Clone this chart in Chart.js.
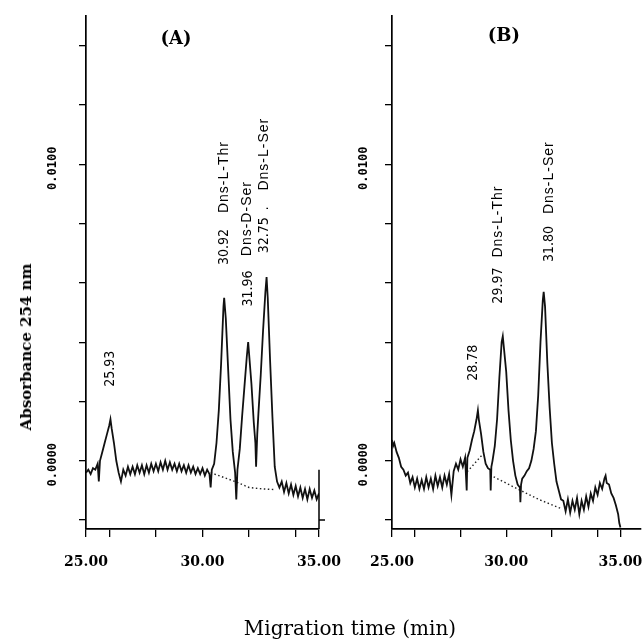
<!DOCTYPE html>
<html>
<head>
<meta charset="utf-8">
<script src="https://cdn.jsdelivr.net/npm/chart.js@4"></script>
<style>
  body { margin: 0; background: #fff; width: 644px; height: 642px; position: relative; overflow: hidden; }
  .panel { position: absolute; top: 0; height: 642px; }
  #wrapA { left: 0; width: 360px; }
  #wrapB { left: 300px; width: 344px; }
  .ttl { position: absolute; color: #000; white-space: nowrap; }
  #ytitle { font: bold 15px "DejaVu Serif", serif; left: 26px; top: 347px; transform: translate(-50%, -50%) rotate(-90deg); }
  #xtitle { font: 20px "DejaVu Serif", serif; left: 350px; top: 628px; transform: translate(-50%, -50%); }
</style>
</head>
<body>
<div class="panel" id="wrapA"><canvas id="chartA"></canvas></div>
<div class="panel" id="wrapB"><canvas id="chartB"></canvas></div>
<div class="ttl" id="ytitle">Absorbance 254 nm</div>
<div class="ttl" id="xtitle">Migration time (min)</div>
<script>
// [migration time (min), absorbance 254 nm]
const traceA = [
  [25.0,-0.0004],[25.1,-0.0003],[25.2,-0.00045],[25.3,-0.00025],[25.4,-0.0003],[25.5,-0.0001],[25.55,-0.0007],
  [25.6,0.0000],[25.7,0.0003],[25.8,0.0006],[25.9,0.0009],[26.0,0.0012],[26.05,0.0014],[26.1,0.0011],[26.2,0.0006],
  [26.3,0.0000],[26.4,-0.0004],[26.5,-0.0007],[26.6,-0.0003],[26.7,-0.0005],[26.8,-0.0002],[26.9,-0.00045],
  [27.0,-0.0002],[27.1,-0.00045],[27.2,-0.00015],[27.3,-0.0004],[27.4,-0.00015],[27.5,-0.00045],[27.6,-0.00015],
  [27.7,-0.0004],[27.8,-0.0001],[27.9,-0.00035],[28.0,-0.0001],[28.1,-0.00035],[28.2,-0.00005],[28.3,-0.0003],
  [28.4,0.0000],[28.5,-0.0003],[28.6,-0.00005],[28.7,-0.0003],[28.8,-0.0001],[28.9,-0.00035],[29.0,-0.0001],
  [29.1,-0.00035],[29.2,-0.00015],[29.3,-0.0004],[29.4,-0.00015],[29.5,-0.0004],[29.6,-0.0002],[29.7,-0.00045],
  [29.8,-0.00025],[29.9,-0.00045],[30.0,-0.00025],[30.1,-0.0005],[30.2,-0.0003],[30.3,-0.00045],[30.35,-0.0009],
  [30.4,-0.0003],[30.5,-0.0001],[30.6,0.0006],[30.7,0.0017],[30.8,0.0033],[30.9,0.0052],[30.93,0.0055],
  [31.0,0.0048],[31.1,0.0031],[31.2,0.0014],[31.3,0.0003],[31.4,-0.0004],[31.45,-0.0013],[31.5,-0.0003],
  [31.6,0.0004],[31.7,0.0015],[31.8,0.0025],[31.9,0.0035],[31.96,0.0040],[32.0,0.0036],[32.1,0.0026],
  [32.2,0.0013],[32.27,0.0006],[32.3,-0.0002],[32.35,0.0009],[32.4,0.0016],[32.5,0.0029],[32.6,0.0044],
  [32.7,0.0057],[32.75,0.0062],[32.8,0.0055],[32.9,0.0034],[33.0,0.0015],[33.1,-0.0002],[33.2,-0.0007],
  [33.3,-0.0009],[33.4,-0.0007],[33.5,-0.00105],[33.6,-0.00075],[33.7,-0.0011],[33.8,-0.0008],[33.9,-0.00115],
  [34.0,-0.00085],[34.1,-0.0012],[34.2,-0.0009],[34.3,-0.00125],[34.4,-0.00095],[34.5,-0.0013],[34.6,-0.00095],
  [34.7,-0.00125],[34.8,-0.001],[34.9,-0.0013],[35.0,-0.0011]
];
const baselineA = [[30.35,-0.0004],[31.4,-0.0007],[32.0,-0.0009],[32.6,-0.00095],[33.14,-0.00097]];

const traceB = [
  [25.0,0.0007],[25.05,0.0005],[25.1,0.0006],[25.2,0.0003],[25.3,0.0001],[25.4,-0.0002],[25.5,-0.0003],
  [25.6,-0.0005],[25.7,-0.0004],[25.8,-0.00075],[25.9,-0.00055],[26.0,-0.0009],[26.1,-0.0006],[26.2,-0.00095],
  [26.3,-0.00065],[26.4,-0.00095],[26.5,-0.00055],[26.6,-0.0009],[26.7,-0.0006],[26.8,-0.00095],[26.9,-0.0005],
  [27.0,-0.00085],[27.1,-0.00055],[27.2,-0.0009],[27.3,-0.0005],[27.4,-0.0008],[27.5,-0.00045],[27.6,-0.00115],
  [27.7,-0.00035],[27.8,-0.0001],[27.9,-0.0003],[28.0,0.00005],[28.1,-0.0002],[28.2,0.0001],[28.27,-0.001],
  [28.3,0.0001],[28.4,0.00035],[28.5,0.0007],[28.6,0.001],[28.7,0.0014],[28.76,0.0017],[28.8,0.0014],
  [28.9,0.0009],[29.0,0.0003],[29.1,-0.0001],[29.2,-0.00025],[29.3,-0.0003],[29.32,-0.001],[29.35,-0.0002],
  [29.4,0.0000],[29.5,0.0005],[29.6,0.0014],[29.7,0.0028],[29.8,0.0040],[29.85,0.0042],[29.9,0.0038],
  [30.0,0.0030],[30.1,0.0017],[30.2,0.0007],[30.3,0.0000],[30.4,-0.0005],[30.5,-0.0008],[30.6,-0.0009],
  [30.62,-0.0014],[30.65,-0.0008],[30.7,-0.0006],[30.8,-0.0005],[30.9,-0.00035],[31.0,-0.00025],[31.1,0.0000],
  [31.2,0.0004],[31.3,0.001],[31.4,0.0022],[31.5,0.0040],[31.6,0.0054],[31.64,0.0057],[31.7,0.0052],
  [31.8,0.0033],[31.9,0.0018],[32.0,0.0006],[32.1,-0.0001],[32.2,-0.0007],[32.3,-0.001],[32.4,-0.0013],
  [32.5,-0.00135],[32.6,-0.0017],[32.7,-0.0013],[32.8,-0.00175],[32.9,-0.00135],[33.0,-0.00165],[33.1,-0.00125],
  [33.2,-0.0018],[33.3,-0.00135],[33.4,-0.00165],[33.5,-0.0012],[33.6,-0.00155],[33.7,-0.0011],[33.8,-0.00135],
  [33.9,-0.0009],[34.0,-0.00115],[34.1,-0.00075],[34.2,-0.00095],[34.3,-0.0006],[34.35,-0.0005],[34.4,-0.00075],
  [34.5,-0.0008],[34.6,-0.0011],[34.7,-0.00125],[34.8,-0.0015],[34.9,-0.0018],[34.95,-0.0021],[35.0,-0.00225]
];
const baselineB = [[28.29,-0.00037],[28.95,0.0002],[29.2,null],[29.45,-0.00054],[30.55,-0.00097],[31.42,-0.0013],[32.37,-0.0016]];

const xTickValues = [25, 26, 28, 30, 32, 34, 35];
const xTickLabels = [25, 30, 35];
const yTickValues = [-0.002, 0, 0.002, 0.004, 0.006, 0.008, 0.01, 0.012, 0.014];
const yTickLabels = [0, 0.01];

const peakLabelsA = [
  { t: 26.03, v: 0.0025, num: '25.93' },
  { t: 30.92, v: 0.0066, num: '30.92', name: 'Dns-L-Thr', gap: 16 },
  { t: 31.95, v: 0.0052, num: '31.96' },
  { t: 31.91, v: 0.0069, name: 'Dns-D-Ser' },
  { t: 32.64, v: 0.0070, num: '32.75', name: '.   Dns-L-Ser', gap: 7 }
];
const peakLabelsB = [
  { t: 28.55, v: 0.0027, num: '28.78' },
  { t: 29.64, v: 0.0053, num: '29.97', name: 'Dns-L-Thr', gap: 10 },
  { t: 31.87, v: 0.0067, num: '31.80', name: 'Dns-L-Ser', gap: 12 }
];

const numFont = '14px "Liberation Sans Narrow", "DejaVu Sans Condensed", "Liberation Sans", sans-serif';
const nameFont = '14px "Liberation Sans", Arial, sans-serif';

const peakText = {
  id: 'peakText',
  afterDraw(chart, args, opts) {
    const { ctx, chartArea, scales: { x, y } } = chart;
    ctx.save();
    ctx.fillStyle = '#000';
    ctx.textBaseline = 'middle';

    // rotated y tick labels
    ctx.font = 'bold 12px "DejaVu Sans Mono", monospace';
    ctx.textAlign = 'center';
    yTickLabels.forEach(v => {
      ctx.save();
      ctx.translate(chartArea.left - opts.yLabelGap, y.getPixelForValue(v) + 4);
      ctx.rotate(-Math.PI / 2);
      ctx.fillText(v.toFixed(4), 0, 0);
      ctx.restore();
    });

    // peak labels, read bottom to top
    ctx.textAlign = 'left';
    opts.labels.forEach(l => {
      ctx.save();
      ctx.translate(x.getPixelForValue(l.t), y.getPixelForValue(l.v));
      ctx.rotate(-Math.PI / 2);
      let pos = 0;
      if (l.num) {
        ctx.font = numFont;
        ctx.letterSpacing = '0px';
        ctx.fillText(l.num, 0, 0);
        pos = ctx.measureText(l.num).width + (l.gap || 0);
      }
      if (l.name) {
        ctx.font = nameFont;
        ctx.letterSpacing = '1px';
        ctx.fillText(l.name, pos, 0);
      }
      ctx.restore();
    });
    ctx.letterSpacing = '0px';

    // panel letter
    ctx.font = 'bold 18px "DejaVu Serif", serif';
    ctx.textAlign = 'center';
    ctx.fillText(opts.title, x.getPixelForValue(opts.titleT), y.getPixelForValue(opts.titleV));

    // short right-hand frame stub
    if (opts.rightStub) {
      ctx.strokeStyle = '#000';
      ctx.lineWidth = 1.5;
      ctx.beginPath();
      ctx.moveTo(chartArea.right, y.getPixelForValue(-0.0003));
      ctx.lineTo(chartArea.right, chartArea.bottom);
      ctx.moveTo(chartArea.right, y.getPixelForValue(-0.002));
      ctx.lineTo(chartArea.right + 6, y.getPixelForValue(-0.002));
      ctx.stroke();
    }
    ctx.restore();
  }
};

function toPoints(arr) {
  return arr.map(p => ({ x: p[0], y: p[1] }));
}

function makeChart(id, trace, base, cfg) {
  return new Chart(document.getElementById(id), {
    type: 'line',
    data: {
      datasets: [
        {
          data: toPoints(trace),
          borderColor: '#111',
          borderWidth: 1.8,
          pointRadius: 0,
          tension: 0
        },
        {
          data: toPoints(base),
          borderColor: '#222',
          borderWidth: 1.4,
          borderDash: [1.5, 2.5],
          pointRadius: 0,
          spanGaps: false
        }
      ]
    },
    options: {
      responsive: true,
      maintainAspectRatio: false,
      animation: false,
      layout: { padding: { top: 16, right: cfg.padRight, left: 0, bottom: 0 } },
      plugins: {
        legend: { display: false },
        tooltip: { enabled: false },
        peakText: cfg.text
      },
      scales: {
        x: {
          type: 'linear',
          min: 25,
          max: cfg.xMax,
          afterBuildTicks: s => { s.ticks = xTickValues.map(v => ({ value: v })); },
          afterFit: s => { s.height = 113; s.paddingLeft = 0; s.paddingRight = 0; },
          grid: { drawOnChartArea: false, drawTicks: true, tickLength: 8, color: '#000', lineWidth: 1.3 },
          border: { color: '#000', width: 1.7 },
          ticks: {
            autoSkip: false,
            maxRotation: 0,
            padding: 17,
            color: '#000',
            font: { family: '"DejaVu Serif", serif', weight: 'bold', size: 14 },
            callback: v => xTickLabels.includes(v) ? v.toFixed(2) : ''
          }
        },
        y: {
          min: -0.0023,
          max: 0.015,
          afterBuildTicks: s => { s.ticks = yTickValues.map(v => ({ value: v })); },
          afterFit: s => { s.width = cfg.yWidth; s.paddingTop = 0; s.paddingBottom = 0; },
          grid: { drawOnChartArea: false, drawTicks: true, tickLength: 7, color: '#000', lineWidth: 1.3 },
          border: { color: '#000', width: 1.7 },
          ticks: { callback: () => '' }
        }
      }
    },
    plugins: [peakText]
  });
}

makeChart('chartA', traceA, baselineA, {
  xMax: 35, yWidth: 86, padRight: 41,
  text: { labels: peakLabelsA, yLabelGap: 33, title: '(A)', titleT: 28.86, titleV: 0.0142, rightStub: true }
});
makeChart('chartB', traceB, baselineB, {
  xMax: 35.9, yWidth: 92, padRight: 3,
  text: { labels: peakLabelsB, yLabelGap: 28, title: '(B)', titleT: 29.9, titleV: 0.0143, rightStub: false }
});
</script>
</body>
</html>
